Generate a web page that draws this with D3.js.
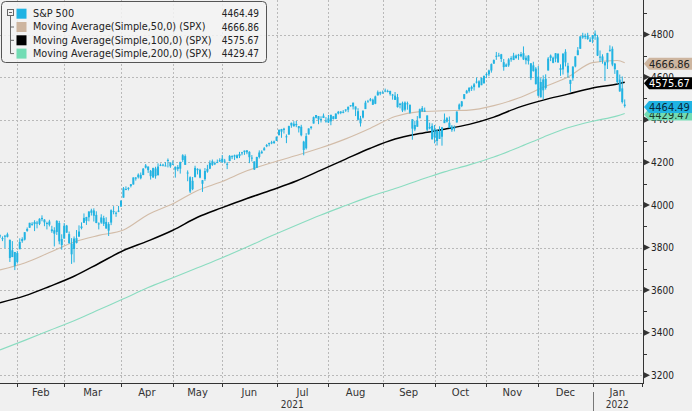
<!DOCTYPE html>
<html>
<head>
<meta charset="utf-8">
<script src="https://cdn.jsdelivr.net/npm/d3@7"></script>
<style>
  body { margin: 0; background: #f0f0f0; }
  svg { display: block; }
  text { font-family: "DejaVu Sans", sans-serif; }
  text.num { font-family: "DejaVu Sans Condensed", "DejaVu Sans", sans-serif; font-stretch: condensed; }
</style>
</head>
<body>
<svg id="chart" width="692" height="411"></svg>
<script>
// trading days shown per month, from 21 Jan 2021 to 21 Jan 2022
const monthNames = ["Jan", "Feb", "Mar", "Apr", "May", "Jun", "Jul", "Aug", "Sep", "Oct", "Nov", "Dec", "Jan"];
const monthDays = [7, 19, 23, 21, 20, 22, 21, 22, 21, 21, 21, 22, 14];
const years = [{ label: "2021", from: 0, to: 12 }, { label: "2022", from: 12, to: 13 }];

// daily S&P 500 bars, one row per month
const opens = [
  3857, 3844, 3851, 3862, 3836, 3755, 3779,
  3732, 3792, 3840, 3837, 3878, 3893, 3910, 3920, 3917, 3911, 3939, 3918, 3915, 3922, 3885, 3865, 3873, 3915, 3840,
  3842, 3903, 3863, 3818, 3793, 3844, 3851, 3891, 3916, 3925, 3942, 3974, 3949, 3953, 3913, 3917, 3938, 3920, 3879, 3917, 3970, 3963, 3968,
  3992, 4034, 4075, 4075, 4089, 4096, 4125, 4130, 4141, 4140, 4175, 4180, 4160, 4129, 4171, 4139, 4185, 4189, 4185, 4206, 4199,
  4192, 4179, 4178, 4170, 4211, 4229, 4150, 4130, 4074, 4130, 4169, 4165, 4099, 4121, 4169, 4170, 4205, 4191, 4201, 4210,
  4217, 4207, 4191, 4206, 4229, 4233, 4233, 4229, 4242, 4248, 4256, 4249, 4220, 4204, 4174, 4225, 4250, 4256, 4275, 4285, 4294, 4290,
  4301, 4327, 4356, 4352, 4322, 4330, 4373, 4381, 4380, 4370, 4367, 4297, 4266, 4331, 4361, 4382, 4409, 4417, 4403, 4408, 4396,
  4406, 4392, 4416, 4404, 4429, 4438, 4436, 4443, 4447, 4464, 4462, 4462, 4440, 4383, 4410, 4450, 4484, 4490, 4494, 4475, 4514, 4529,
  4528, 4534, 4532, 4535, 4518, 4513, 4506, 4475, 4479, 4447, 4477, 4470, 4402, 4375, 4367, 4407, 4439, 4443, 4420, 4366, 4371,
  4317, 4349, 4310, 4320, 4384, 4407, 4386, 4368, 4358, 4387, 4448, 4464, 4498, 4524, 4534, 4554, 4553, 4579, 4580, 4562, 4572,
  4610, 4613, 4631, 4663, 4700, 4702, 4707, 4670, 4659, 4655, 4689, 4680, 4701, 4700, 4708, 4712, 4679, 4675, 4665, 4628, 4640,
  4602, 4505, 4589, 4549, 4631, 4690, 4691, 4687, 4710, 4642, 4636, 4719, 4653, 4587, 4595, 4650, 4703, 4733, 4795, 4789, 4795, 4776,
  4778, 4804, 4787, 4693, 4697, 4655, 4669, 4728, 4733, 4637, 4632, 4588, 4547, 4471
];
const highs = [
  3861, 3852, 3859, 3870, 3837, 3830, 3779,
  3784, 3843, 3848, 3872, 3894, 3916, 3919, 3928, 3925, 3937, 3951, 3933, 3921, 3930, 3902, 3895, 3928, 3925, 3862,
  3915, 3906, 3875, 3844, 3852, 3882, 3904, 3918, 3960, 3944, 3970, 3982, 3984, 3970, 3918, 3956, 3949, 3942, 3919, 3979, 3994, 3969, 3995,
  4021, 4084, 4087, 4083, 4098, 4129, 4131, 4148, 4152, 4173, 4192, 4180, 4164, 4175, 4179, 4195, 4194, 4193, 4201, 4218, 4199,
  4209, 4180, 4187, 4202, 4238, 4237, 4162, 4134, 4131, 4184, 4172, 4170, 4117, 4173, 4188, 4209, 4213, 4203, 4213, 4219,
  4234, 4216, 4201, 4234, 4233, 4236, 4237, 4249, 4249, 4255, 4257, 4252, 4234, 4204, 4226, 4256, 4256, 4272, 4286, 4292, 4301, 4302,
  4321, 4355, 4357, 4362, 4331, 4372, 4387, 4393, 4394, 4370, 4376, 4301, 4337, 4359, 4370, 4415, 4422, 4417, 4416, 4429, 4412,
  4422, 4423, 4416, 4429, 4441, 4440, 4445, 4449, 4461, 4468, 4480, 4462, 4454, 4418, 4444, 4489, 4493, 4502, 4499, 4513, 4537, 4532,
  4537, 4546, 4541, 4536, 4521, 4530, 4521, 4479, 4485, 4486, 4485, 4471, 4402, 4395, 4417, 4452, 4464, 4457, 4420, 4386, 4383,
  4375, 4356, 4369, 4366, 4429, 4412, 4415, 4375, 4373, 4439, 4476, 4488, 4520, 4540, 4552, 4560, 4572, 4598, 4585, 4597, 4608,
  4621, 4635, 4664, 4683, 4718, 4714, 4709, 4685, 4664, 4689, 4698, 4714, 4706, 4709, 4718, 4744, 4701, 4703, 4665, 4672, 4647,
  4652, 4595, 4608, 4613, 4694, 4706, 4696, 4713, 4711, 4660, 4712, 4731, 4667, 4587, 4651, 4698, 4741, 4792, 4808, 4804, 4808, 4787,
  4797, 4819, 4798, 4725, 4707, 4673, 4714, 4749, 4744, 4666, 4632, 4612, 4603, 4495
];
const lows = [
  3845, 3830, 3797, 3847, 3732, 3755, 3694,
  3725, 3792, 3822, 3833, 3874, 3892, 3902, 3877, 3890, 3905, 3923, 3900, 3885, 3899, 3869, 3805, 3859, 3815, 3790,
  3842, 3869, 3818, 3723, 3730, 3819, 3851, 3885, 3916, 3906, 3923, 3950, 3922, 3914, 3885, 3911, 3901, 3889, 3854, 3905, 3956, 3944, 3966,
  3992, 4034, 4069, 4068, 4082, 4095, 4114, 4124, 4120, 4140, 4171, 4150, 4119, 4127, 4123, 4139, 4182, 4181, 4182, 4176, 4174,
  4188, 4128, 4158, 4147, 4202, 4188, 4111, 4056, 4069, 4130, 4143, 4125, 4061, 4113, 4151, 4168, 4183, 4187, 4197, 4202,
  4197, 4195, 4168, 4205, 4215, 4211, 4218, 4220, 4233, 4235, 4238, 4196, 4204, 4164, 4174, 4218, 4241, 4256, 4271, 4275, 4285, 4287,
  4300, 4327, 4315, 4335, 4290, 4330, 4362, 4368, 4365, 4340, 4322, 4233, 4260, 4330, 4354, 4382, 4406, 4379, 4387, 4408, 4386,
  4385, 4374, 4401, 4403, 4425, 4426, 4430, 4437, 4435, 4461, 4448, 4417, 4397, 4368, 4406, 4450, 4482, 4486, 4470, 4473, 4514, 4515,
  4522, 4529, 4528, 4513, 4494, 4493, 4457, 4453, 4436, 4439, 4447, 4428, 4306, 4346, 4367, 4407, 4438, 4436, 4347, 4355, 4307,
  4289, 4279, 4310, 4278, 4384, 4387, 4360, 4343, 4345, 4387, 4448, 4459, 4496, 4522, 4527, 4535, 4537, 4570, 4551, 4562, 4568,
  4595, 4604, 4621, 4663, 4681, 4697, 4671, 4630, 4648, 4648, 4672, 4680, 4687, 4681, 4693, 4680, 4660, 4659, 4586, 4626, 4565,
  4510, 4505, 4496, 4541, 4631, 4675, 4665, 4670, 4667, 4606, 4612, 4650, 4597, 4531, 4583, 4646, 4703, 4733, 4780, 4778, 4775, 4766,
  4759, 4775, 4699, 4671, 4663, 4582, 4638, 4719, 4651, 4615, 4569, 4531, 4476, 4457
];
const closes = [
  3853, 3841, 3855, 3850, 3751, 3787, 3714,
  3774, 3826, 3830, 3872, 3887, 3916, 3911, 3910, 3916, 3935, 3933, 3931, 3914, 3907, 3877, 3881, 3925, 3829, 3811,
  3902, 3870, 3820, 3768, 3842, 3821, 3875, 3899, 3939, 3943, 3969, 3963, 3974, 3915, 3913, 3941, 3911, 3889, 3910, 3975, 3971, 3959, 3973,
  4020, 4078, 4074, 4080, 4097, 4129, 4128, 4142, 4125, 4170, 4185, 4163, 4135, 4173, 4135, 4180, 4188, 4187, 4183, 4211, 4181,
  4193, 4165, 4168, 4202, 4233, 4188, 4152, 4063, 4113, 4174, 4163, 4128, 4116, 4159, 4156, 4197, 4188, 4196, 4201, 4204,
  4202, 4208, 4193, 4230, 4227, 4227, 4220, 4239, 4247, 4255, 4247, 4224, 4222, 4166, 4225, 4246, 4242, 4266, 4281, 4291, 4292, 4298,
  4320, 4352, 4344, 4358, 4321, 4370, 4385, 4369, 4374, 4360, 4327, 4258, 4323, 4359, 4367, 4412, 4422, 4401, 4401, 4419, 4395,
  4387, 4423, 4403, 4429, 4437, 4432, 4437, 4448, 4461, 4468, 4480, 4448, 4400, 4406, 4442, 4480, 4486, 4496, 4470, 4509, 4529, 4523,
  4524, 4537, 4535, 4520, 4514, 4493, 4459, 4469, 4443, 4481, 4474, 4433, 4358, 4354, 4396, 4449, 4455, 4443, 4353, 4359, 4308,
  4357, 4300, 4346, 4364, 4400, 4391, 4361, 4351, 4364, 4438, 4471, 4486, 4520, 4536, 4550, 4545, 4566, 4575, 4552, 4596, 4605,
  4614, 4631, 4661, 4680, 4698, 4702, 4685, 4647, 4649, 4683, 4683, 4701, 4689, 4705, 4698, 4683, 4691, 4701, 4595, 4655, 4567,
  4513, 4577, 4538, 4592, 4687, 4701, 4667, 4712, 4669, 4634, 4710, 4669, 4621, 4568, 4649, 4697, 4726, 4791, 4786, 4793, 4779, 4766,
  4797, 4794, 4701, 4696, 4677, 4670, 4713, 4726, 4659, 4663, 4577, 4533, 4483, 4464.49
];

// moving averages every 10 trading days
const maDays = [0, 10, 20, 30, 40, 50, 60, 70, 80, 90, 100, 110, 120, 130, 140, 150, 160, 170, 180, 190, 200, 210, 220, 230, 240, 250, 253];
const ma50 = [3695, 3727, 3776, 3826, 3857, 3882, 3955, 4005, 4068, 4110, 4160, 4198, 4232, 4268, 4310, 4360, 4415, 4438, 4442, 4445, 4466, 4502, 4552, 4600, 4668, 4678, 4666.86];
const ma100 = [3541, 3573, 3617, 3665, 3725, 3786, 3831, 3881, 3942, 3987, 4030, 4070, 4112, 4163, 4215, 4266, 4309, 4335, 4355, 4378, 4412, 4458, 4492, 4520, 4549, 4568, 4575.67];
const ma200 = [3319, 3364, 3410, 3456, 3508, 3559, 3612, 3658, 3705, 3752, 3802, 3855, 3905, 3953, 3997, 4040, 4077, 4117, 4155, 4188, 4225, 4270, 4318, 4362, 4393, 4418, 4429.47];

const priceTicks = [3200, 3400, 3600, 3800, 4000, 4200, 4400, 4600, 4800];
const minorTicks = [3300, 3500, 3700, 3900, 4100, 4300, 4500, 4700, 4900];

const legendNames = ["S&P 500", "Moving Average(Simple,50,0) (SPX)", "Moving Average(Simple,100,0) (SPX)", "Moving Average(Simple,200,0) (SPX)"];
const legendValues = [4464.49, 4666.86, 4575.67, 4429.47];
const legendColors = ["#1fb3e3", "#cdb59f", "#000000", "#72dcb4"];
const tagText = ["#0a2a3a", "#222222", "#ffffff", "#1a3a2a"];

const plotRight = 643, plotBottom = 383;
const svg = d3.select('#chart');

svg.append('rect').attr('width', 692).attr('height', 411).attr('fill', '#f0f0f0');

const x = d3.scaleLinear().domain([0, 260]).range([0, 642]);
const y = d3.scaleLinear().domain([3200, 4800]).range([375.3, 34.5]);

// month start indices
let monthStarts = [];
let acc = 0;
monthDays.forEach(d => { monthStarts.push(acc); acc += d; });

// grid
let grid = svg.append('g').attr('stroke', '#b9b9b9').attr('stroke-dasharray', '2,2').attr('stroke-width', 1);
grid.selectAll('.h').data(priceTicks).join('line')
    .attr('x1', 0).attr('x2', plotRight)
    .attr('y1', d => Math.round(y(d)) + 0.5).attr('y2', d => Math.round(y(d)) + 0.5);
grid.selectAll('.v').data(monthStarts.slice(1)).join('line')
    .attr('x1', d => Math.round(x(d)) + 0.5).attr('x2', d => Math.round(x(d)) + 0.5)
    .attr('y1', 0).attr('y2', plotBottom);

svg.append('clipPath').attr('id', 'plotclip')
    .append('rect').attr('width', plotRight).attr('height', plotBottom);

let plot = svg.append('g').attr('clip-path', 'url(#plotclip)');

// moving average lines
let maLine = d3.line()
    .x((d, i) => x(maDays[i]))
    .y(d => y(d))
    .curve(d3.curveMonotoneX);

plot.append('path').datum(ma200).attr('d', maLine)
    .attr('fill', 'none').attr('stroke', '#8adcc0').attr('stroke-width', 1.1);
plot.append('path').datum(ma50).attr('d', maLine)
    .attr('fill', 'none').attr('stroke', '#d2bca8').attr('stroke-width', 1.1);
plot.append('path').datum(ma100).attr('d', maLine)
    .attr('fill', 'none').attr('stroke', '#000').attr('stroke-width', 1.5);

// candles
let idx = d3.range(closes.length);
let cyan = '#22b3e2';
plot.append('g').selectAll('line').data(idx).join('line')
    .attr('x1', i => x(i)).attr('x2', i => x(i))
    .attr('y1', i => y(highs[i])).attr('y2', i => y(lows[i]))
    .attr('stroke', cyan).attr('stroke-width', 1);
plot.append('g').selectAll('rect').data(idx).join('rect')
    .attr('x', i => x(i) - 1)
    .attr('width', 2)
    .attr('y', i => y(Math.max(opens[i], closes[i])))
    .attr('height', i => Math.max(1, Math.abs(y(opens[i]) - y(closes[i]))))
    .attr('fill', cyan);

// bottom axis
svg.append('line').attr('x1', 0).attr('x2', plotRight + 0.5)
    .attr('y1', plotBottom + 0.5).attr('y2', plotBottom + 0.5)
    .attr('stroke', '#333');
svg.append('g').selectAll('line').data(monthStarts.slice(1).concat([260])).join('line')
    .attr('x1', d => Math.round(x(d)) + 0.5).attr('x2', d => Math.round(x(d)) + 0.5)
    .attr('y1', plotBottom).attr('y2', plotBottom + 4)
    .attr('stroke', '#333');

let monthEnds = monthStarts.slice(1).concat([260]);
svg.append('g').selectAll('text').data(d3.range(1, monthNames.length)).join('text')
    .attr('x', i => (x(monthStarts[i]) + x(monthEnds[i])) / 2)
    .attr('y', 396)
    .attr('text-anchor', 'middle')
    .attr('font-size', 10)
    .attr('fill', '#333')
    .text(i => monthNames[i]);

svg.append('g').selectAll('text').data(years).join('text')
    .attr('class', 'num')
    .attr('x', d => (x(monthStarts[d.from]) + x(monthEnds[d.to - 1])) / 2 - (d.from == 0 ? 4 : 0))
    .attr('y', 408)
    .attr('text-anchor', 'middle')
    .attr('font-size', 10)
    .attr('fill', '#333')
    .text(d => d.label);
svg.append('line')
    .attr('x1', Math.round(x(monthStarts[12])) + 0.5).attr('x2', Math.round(x(monthStarts[12])) + 0.5)
    .attr('y1', 392).attr('y2', 411)
    .attr('stroke', '#777');

// right axis
svg.append('line').attr('x1', plotRight + 0.5).attr('x2', plotRight + 0.5)
    .attr('y1', 0).attr('y2', plotBottom + 1)
    .attr('stroke', '#333');
svg.append('g').selectAll('line').data(minorTicks).join('line')
    .attr('x1', plotRight).attr('x2', plotRight + 4)
    .attr('y1', d => Math.round(y(d)) + 0.5).attr('y2', d => Math.round(y(d)) + 0.5)
    .attr('stroke', '#333');
svg.append('g').selectAll('path').data(priceTicks).join('path')
    .attr('d', d => `M${plotRight},${y(d) - 3.5}L${plotRight + 7},${y(d)}L${plotRight},${y(d) + 3.5}Z`)
    .attr('fill', '#333');
svg.append('g').selectAll('text').data(priceTicks).join('text')
    .attr('class', 'num')
    .attr('x', plotRight + 8)
    .attr('y', d => y(d))
    .attr('dy', '0.36em')
    .attr('font-size', 10)
    .attr('fill', '#222')
    .text(d => d);

// last value tags
let tagOrder = [3, 0, 2, 1];
let tags = svg.append('g').selectAll('g').data(tagOrder).join('g')
    .attr('transform', i => `translate(0,${y(legendValues[i]) + 1})`);
tags.append('path')
    .attr('d', `M${plotRight + 1},0L${plotRight + 6},-6L692,-6L692,6L${plotRight + 6},6Z`)
    .attr('fill', i => legendColors[i]);
tags.append('text')
    .attr('class', 'num')
    .attr('x', plotRight + 6)
    .attr('dy', '0.37em')
    .attr('font-size', 11)
    .attr('fill', i => tagText[i])
    .text(i => legendValues[i].toFixed(2));

// legend
let legend = svg.append('g');
legend.append('rect')
    .attr('x', 1.5).attr('y', 1.5).attr('width', 265).attr('height', 61).attr('rx', 4)
    .attr('fill', '#f3f3f3').attr('fill-opacity', 0.85)
    .attr('stroke', '#555');
let rowY = d => 13.7 + d * 13.3;
// tree icon
legend.append('rect').attr('x', 7.5).attr('y', 9.5).attr('width', 6).attr('height', 6)
    .attr('fill', 'none').attr('stroke', '#666');
legend.append('line').attr('x1', 9).attr('x2', 12).attr('y1', 12.5).attr('y2', 12.5).attr('stroke', '#666');
legend.append('line').attr('x1', 10.5).attr('x2', 10.5).attr('y1', 16).attr('y2', rowY(3)).attr('stroke', '#666');
legend.selectAll('.branch').data([1, 2, 3]).join('line')
    .attr('x1', 10.5).attr('x2', 14).attr('y1', d => rowY(d)).attr('y2', d => rowY(d))
    .attr('stroke', '#666');
legend.selectAll('.sw').data(d3.range(4)).join('rect')
    .attr('x', 16.5).attr('y', d => rowY(d) - 5)
    .attr('width', 10).attr('height', 10)
    .attr('fill', d => legendColors[d]);
legend.selectAll('.nm').data(d3.range(4)).join('text')
    .attr('x', 33).attr('y', d => rowY(d)).attr('dy', '0.36em')
    .attr('font-size', 9.7).attr('fill', '#222')
    .text(d => legendNames[d]);
legend.selectAll('.vl').data(d3.range(4)).join('text')
    .attr('class', 'num')
    .attr('x', 259).attr('y', d => rowY(d)).attr('dy', '0.36em')
    .attr('text-anchor', 'end')
    .attr('font-size', 10).attr('fill', '#222')
    .text(d => legendValues[d].toFixed(2));
</script>
</body>
</html>
